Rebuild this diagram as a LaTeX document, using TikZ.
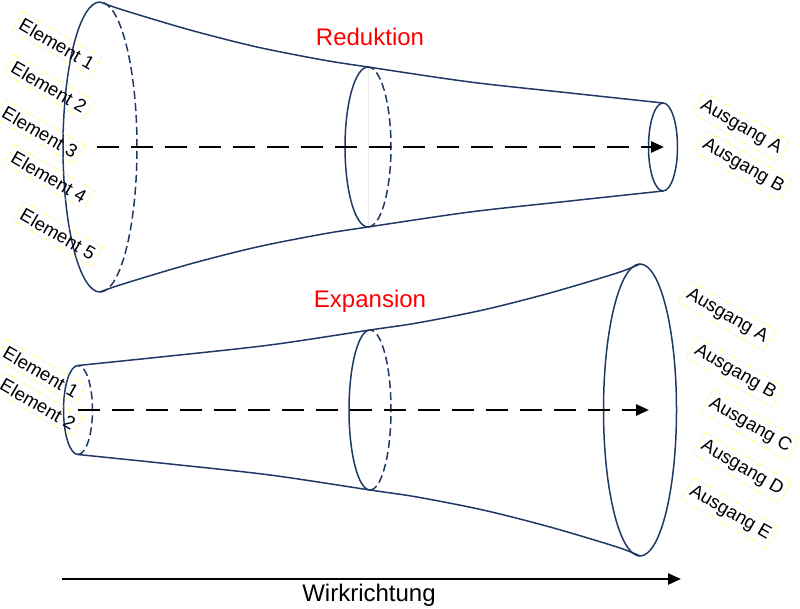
\documentclass[tikz,border=0pt]{standalone}
\usepackage{fontspec}
\setmainfont{Liberation Sans}
\usetikzlibrary{arrows.meta,positioning}
\definecolor{navy}{RGB}{31,56,100}
\tikzset{
  outline/.style={draw=navy, line width=1.5pt},
  hidden/.style={outline, dash pattern=on 8pt off 4pt},
  flow/.style={line width=2.6pt, dash pattern=on 22pt off 12pt, -{Triangle[length=13pt,width=11pt]}},
  axis/.style={line width=2.6pt, -{Triangle[length=13pt,width=11pt]}},
  tag/.style={font=\fontsize{18.5}{20}\selectfont, rotate=-30, draw=yellow, dotted, line width=0.7pt, inner sep=4pt},
  title/.style={text=red, font=\fontsize{24}{26}\selectfont, anchor=base}
}
\begin{document}
\begin{tikzpicture}[x=1pt, y=1pt]
\useasboundingbox (0,0) rectangle (800,608);

% Reduktion
\draw[outline] plot[smooth] coordinates {(100,606) (123,598) (190,578) (257,561) (323,548) (368,541) (470,526) (570,515) (663,505)};
\draw[outline] plot[smooth] coordinates {(100,316) (123,324) (190,344) (257,361) (323,374) (368,381) (470,396) (570,407) (663,417)};
\draw[outline] (100,606) arc[start angle=90, end angle=270, x radius=37, y radius=145];
\draw[hidden] (100,316) arc[start angle=-90, end angle=90, x radius=37, y radius=145];
\draw[gray!15] (368,541) -- (368,381);
\draw[outline] (368,541) arc[start angle=90, end angle=270, x radius=23, y radius=80];
\draw[hidden] (368,381) arc[start angle=-90, end angle=90, x radius=23, y radius=80];
\draw[outline] (663,461) ellipse[x radius=14.5, y radius=44];
\node[title] (red) at (370,562) {Reduktion};
\coordinate (in1) at (97,461);
\coordinate (out1) at (664,461);
\draw[flow] (in1) -- (out1);

\node[tag] (e11) at (57,564) {Element 1};
\node[tag] (e12) at (49,521) {Element 2};
\node[tag] (e13) at (40,476) {Element 3};
\node[tag] (e14) at (49,431) {Element 4};
\node[tag] (e15) at (58,374) {Element 5};
\node[tag] (a1a) at (741,481) {Ausgang A};
\node[tag] (a1b) at (743,442) {Ausgang B};

% Expansion
\draw[outline] plot[smooth] coordinates {(78,242.5) (170,252) (270,263) (370,278) (417,285) (483,298) (550,315) (617,335) (640,344)};
\draw[outline] plot[smooth] coordinates {(78,153.5) (170,144) (270,133) (370,118) (417,111) (483,98) (550,81) (617,61) (640,52)};
\draw[outline] (78,242.5) arc[start angle=90, end angle=270, x radius=14.5, y radius=44.5];
\draw[hidden] (78,153.5) arc[start angle=-90, end angle=90, x radius=14.5, y radius=44.5];
\draw[outline] (370,278) arc[start angle=90, end angle=270, x radius=21, y radius=80];
\draw[hidden] (370,118) arc[start angle=-90, end angle=90, x radius=21, y radius=80];
\draw[outline] (640,198) ellipse[x radius=36.5, y radius=146];
\node[title] (exp) at (370,300) {Expansion};
\coordinate (in2) at (78,198);
\coordinate (out2) at (649,198);
\draw[flow] (in2) -- (out2);

\node[tag] (e21) at (41,236) {Element 1};
\node[tag] (e22) at (38,204) {Element 2};
\node[tag] (a2a) at (727,292) {Ausgang A};
\node[tag] (a2b) at (735,236) {Ausgang B};
\node[tag] (a2c) at (750,183) {Ausgang C};
\node[tag] (a2d) at (742,140) {Ausgang D};
\node[tag] (a2e) at (730,95) {Ausgang E};

% Wirkrichtung
\coordinate (w0) at (62,29);
\coordinate (w1) at (681,29);
\draw[axis] (w0) -- (w1);
\node[font=\fontsize{24}{26}\selectfont, anchor=base] (dir) at (369,7) {Wirkrichtung};
\end{tikzpicture}
\end{document}
